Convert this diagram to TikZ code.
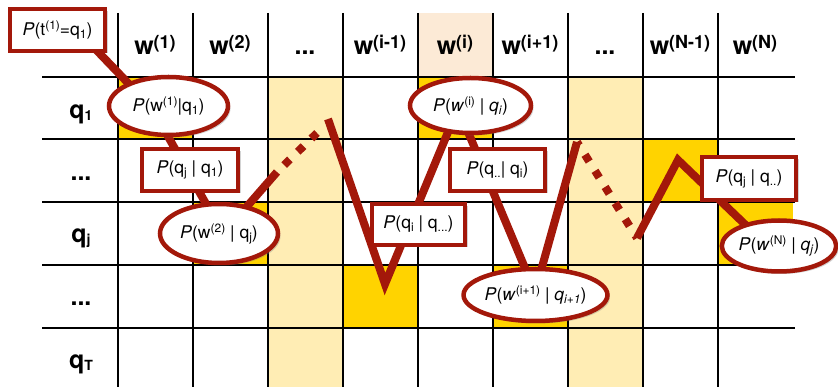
\documentclass[tikz,border=0pt]{standalone}
\usepackage{fontspec}
\setmainfont{TeX Gyre Heros}
\usetikzlibrary{shadows,shapes.geometric}
\definecolor{pred}{RGB}{163,24,10}
\definecolor{gold}{RGB}{255,211,0}
\definecolor{lyel}{RGB}{255,237,180}
\definecolor{peach}{RGB}{252,234,214}
\newcommand{\ssup}[1]{\raisebox{6pt}{\fontsize{12}{12}\selectfont #1}}
\newcommand{\ssub}[1]{\raisebox{-3pt}{\fontsize{12}{12}\selectfont #1}}
\newcommand{\hsup}[1]{\raisebox{6pt}{\fontsize{18}{18}\selectfont #1}}
\newcommand{\rsub}[1]{\raisebox{-2pt}{\fontsize{14}{14}\selectfont #1}}
\begin{document}
\begin{tikzpicture}[x=1pt,y=-1pt,
  gridline/.style={line width=1.3pt, black},
  pathline/.style={line width=8pt, pred, line join=miter, line cap=butt},
  dotsA/.style={dash pattern=on 8pt off 11pt, dash phase=9pt},
  dotsB/.style={dash pattern=on 8pt off 11pt, dash phase=4pt},
  probbox/.style={rectangle, draw=pred, line width=4pt, fill=white, inner sep=0pt,
    font=\fontsize{17.5}{20}\selectfont,
    drop shadow={opacity=0.35, shadow xshift=2.5pt, shadow yshift=-2.5pt}},
  probell/.style={ellipse, draw=pred, line width=4.5pt, fill=white, inner sep=0pt,
    font=\fontsize{17.5}{20}\selectfont,
    drop shadow={opacity=0.35, shadow xshift=2.5pt, shadow yshift=-2.5pt}},
  hlabel/.style={anchor=base, inner sep=0pt, font=\bfseries\fontsize{25}{25}\selectfont},
  rlabel/.style={anchor=base, inner sep=0pt, font=\bfseries\fontsize{25}{25}\selectfont},
]
\useasboundingbox (0,0) rectangle (838,387);
% column / cell fills
\fill[lyel] (268,77) rectangle (343,387);
\fill[lyel] (568,77) rectangle (643,387);
\fill[peach] (418,13) rectangle (493,77);
\fill[gold] (118,77) rectangle (193,139);
\fill[gold] (193,202) rectangle (268,265);
\fill[gold] (343,265) rectangle (418,328);
\fill[gold] (418,77) rectangle (493,139);
\fill[gold] (493,265) rectangle (568,328);
\fill[gold] (643,139) rectangle (718,202);
\fill[gold] (718,202) rectangle (793,265);
% grid
\foreach \x in {118,193,268,343,418,493,568,643,718}
  \draw[gridline] (\x,13) -- (\x,387);
\foreach \y in {77,139,202,265,328}
  \draw[gridline] (42,\y) -- (795,\y);
% header labels
\node[hlabel] (h1) at (155,55) {w\hsup{(1)}};
\node[hlabel] (h2) at (230,55) {w\hsup{(2)}};
\node[hlabel] (h3) at (305,55) {...};
\node[hlabel] (h4) at (380,55) {w\hsup{(i-1)}};
\node[hlabel] (h5) at (455,55) {w\hsup{(i)}};
\node[hlabel] (h6) at (530,55) {w\hsup{(i+1)}};
\node[hlabel] (h7) at (605,55) {...};
\node[hlabel] (h8) at (680,55) {w\hsup{(N-1)}};
\node[hlabel] (h9) at (755,55) {w\hsup{(N)}};
% row labels
\node[rlabel] (r1) at (81,119) {q\rsub{1}};
\node[rlabel] (r2) at (81,181) {...};
\node[rlabel] (r3) at (81,243) {q\rsub{j}};
\node[rlabel] (r4) at (81,306) {...};
\node[rlabel] (r5) at (81,368) {q\rsub{T}};
% path coordinates
\coordinate (c0) at (80,33);
\coordinate (c1) at (152,108);
\coordinate (c2) at (223,234);
\coordinate (d1) at (277,172);
\coordinate (d2) at (317,133);
\coordinate (d3) at (328,119);
\coordinate (c4) at (385,284);
\coordinate (c5) at (458,108);
\coordinate (c6) at (535,292);
\coordinate (d4) at (577,142);
\coordinate (d5) at (637,238);
\coordinate (c8) at (678,160);
\coordinate (c9) at (755,234);
% path
\draw[pathline] (c0) -- (c1) -- (c2) -- (d1);
\draw[pathline, dotsA] (d1) -- (d2);
\draw[pathline] (d3) -- (c4) -- (c5) -- (c6) -- (d4);
\draw[pathline, dotsB] (d4) -- (d5);
\draw[pathline] (d5) -- (c8) -- (c9);
% probability boxes
\node[probbox, minimum width=95pt, minimum height=42pt] (tb) at (57.5,30) {\textit{P}(t\ssup{(1)}=q\ssub{1})};
\node[probbox, minimum width=96pt, minimum height=42pt] (b1) at (190,170) {\textit{P}(q\ssub{j} | q\ssub{1})};
\node[probbox, minimum width=93pt, minimum height=41pt] (b2) at (418.5,224.5) {\textit{P}(q\ssub{i} | q\ssub{...})};
\node[probbox, minimum width=95pt, minimum height=42pt] (b3) at (497.5,170) {\textit{P}(q\ssub{..}| q\ssub{i})};
\node[probbox, minimum width=94pt, minimum height=43pt] (b4) at (749,178.5) {\textit{P}(q\ssub{j} | q\ssub{..})};
% emission ellipses
\node[probell, minimum width=119pt, minimum height=58pt] (e1) at (168.5,106) {\textit{P}(w\ssup{(1)}|q\ssub{1})};
\node[probell, minimum width=118pt, minimum height=59pt] (e2) at (219,233.5) {\textit{P}(w\ssup{(2)} | q\ssub{j})};
\node[probell, minimum width=121pt, minimum height=55pt] (e3) at (470.5,105.5) {\textit{P}(\textit{w}\ssup{(i)} | \textit{q}\ssub{\textit{i}})};
\node[probell, minimum width=125pt, minimum height=52pt] (e4) at (535.5,295) {\textit{P}(\textit{w}\ssup{(i+1)} | \textit{q}\ssub{\textit{i+1}})};
\node[probell, minimum width=112pt, minimum height=51pt] (e5) at (779,246) {\textit{P}(\textit{w}\ssup{(N)} | \textit{q}\ssub{\textit{j}})};
\end{tikzpicture}
\end{document}
